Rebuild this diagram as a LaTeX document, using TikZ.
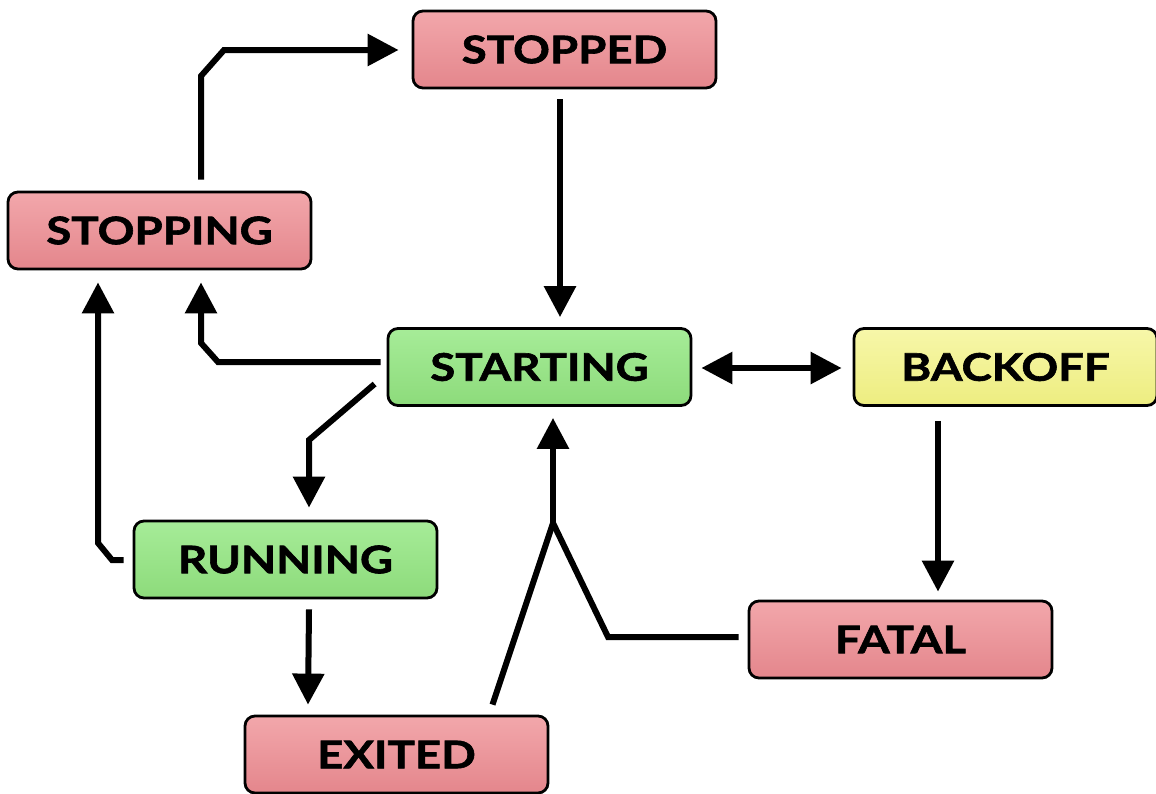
\documentclass[tikz,border=0pt]{standalone}
\usepackage{fontspec}
\newfontfamily\lblfont{Lato}[FakeStretch=1.2,FakeBold=1.6]
\usetikzlibrary{arrows.meta,calc}
\definecolor{redtop}{HTML}{F2A7AB}
\definecolor{redbot}{HTML}{E4868C}
\definecolor{grntop}{HTML}{A6EC98}
\definecolor{grnbot}{HTML}{8DDB7B}
\definecolor{yeltop}{HTML}{F7F7A9}
\definecolor{yelbot}{HTML}{EDED80}
\tikzset{
  state/.style={draw=black, line width=2.8pt, rounded corners=10pt,
    minimum width=303pt, minimum height=77pt, inner sep=0pt,
    font=\lblfont\bfseries\fontsize{38}{40}\selectfont},
  redstate/.style={state, top color=redtop, bottom color=redbot},
  grnstate/.style={state, top color=grntop, bottom color=grnbot},
  yelstate/.style={state, top color=yeltop, bottom color=yelbot},
  arr/.style={line width=6pt, -{Triangle[length=31pt,width=31pt]}},
  darr/.style={line width=6pt, {Triangle[length=31pt,width=31pt]}-{Triangle[length=31pt,width=31pt]}},
  seg/.style={line width=6pt}
}
\begin{document}
\begin{tikzpicture}[x=1pt,y=-1pt]
\useasboundingbox (0,0) rectangle (1156,793);
\node[redstate] (stopped)  at (564.5,49.5) {STOPPED};
\node[redstate] (stopping) at (159.5,230.5) {STOPPING};
\node[grnstate] (starting) at (539.5,367) {STARTING};
\node[yelstate] (backoff)  at (1005.5,367) {BACKOFF};
\node[grnstate] (running)  at (285.5,559.5) {RUNNING};
\node[redstate] (fatal)    at (900.5,639.5) {FATAL};
\node[redstate] (exited)   at (396.5,754.5) {EXITED};
% stopping -> stopped
\draw[arr] ($(stopping.north)+(41.5,-11)$) -- (201,76) -- (224,50) -- ($(stopped.west)+(-13,0.5)$);
% stopped -> starting
\draw[arr] ($(stopped.south)+(-4.5,10)$) -- ($(starting.north)+(20.5,-10)$);
% starting -> stopping
\draw[arr] ($(starting.west)+(-6,-5)$) -- (218,362) -- (201,343) -- ($(stopping.south)+(41.5,12)$);
% starting -> running
\draw[arr] ($(starting.west)+(-12,17)$) -- (309,440) -- ($(running.north)+(23.5,-12)$);
% running -> stopping
\draw[arr] ($(running.west)+(-9,0.5)$) -- (112,560) -- (98,543) -- ($(stopping.south)+(-61.5,12)$);
% running -> exited
\draw[arr] ($(running.south)+(23.5,10)$) -- ($(exited.north)+(-88.5,-10)$);
% starting <-> backoff
\draw[darr] ($(starting.east)+(9,1)$) -- ($(backoff.west)+(-11,1)$);
% backoff -> fatal
\draw[arr] ($(backoff.south)+(-67.5,14)$) -- ($(fatal.north)+(37.5,-8)$);
% exited, fatal -> starting
\coordinate (join) at (553,523);
\draw[seg] ($(exited.north)+(96,-10)$) -- (join);
\draw[seg] ($(fatal.west)+(-9,-2.5)$) -- (608,637) -- (join);
\draw[arr] (join) -- ($(starting.south)+(13.5,11)$);
\end{tikzpicture}
\end{document}
